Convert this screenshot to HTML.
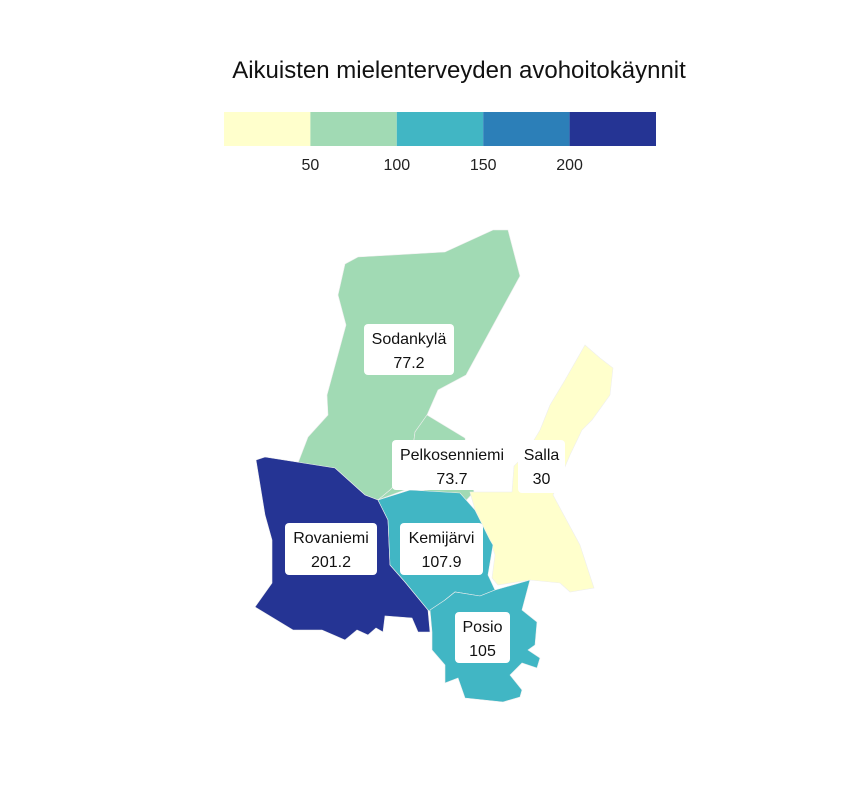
<!DOCTYPE html>
<html><head><meta charset="utf-8"><style>
body{margin:0;background:#fff;}
svg{display:block;font-family:"Liberation Sans",sans-serif;}
</style></head><body>
<svg id="chart" width="864" height="792">
<text x="459" y="78" text-anchor="middle" font-size="24" fill="#111">Aikuisten mielenterveyden avohoitokäynnit</text>
<g id="legend"></g>
<g id="map"></g>
<g id="labels"></g>
</svg>
<script>
const names=["Sodankylä","Pelkosenniemi","Salla","Rovaniemi","Kemijärvi","Posio"];
const values=[77.2,73.7,30,201.2,107.9,105];
const breaks=[50,100,150,200];
const colors=["#ffffcc","#a1dab4","#41b6c4","#2c7fb8","#253494"];
const tickLabels=["50","100","150","200"];
const shapes={
"Sodankylä":"345,264 358,257 445,252 493,230 508,230 520,276 466,375 438,390 427,415 415,432 410,470 390,490 378,500 365,495 335,468 298,463 308,437 328,415 327,395 346,325 338,295",
"Pelkosenniemi":"427,415 465,438 470,470 474,492 462,505 450,495 410,488 378,500 390,490 410,470 415,432",
"Salla":"585,345 600,358 613,368 610,395 592,420 582,430 570,455 553,495 580,545 594,588 570,592 560,583 530,580 498,585 492,578 495,555 490,540 475,510 470,492 512,492 514,466 525,455 540,430 550,405 565,380",
"Rovaniemi":"256,460 265,457 335,468 365,495 378,500 388,520 390,565 405,582 428,610 430,632 418,632 412,618 385,616 383,632 376,628 368,635 357,630 345,640 322,630 293,630 255,607 272,583 272,540 265,515",
"Kemijärvi":"378,500 410,490 460,493 475,510 490,540 493,545 488,575 495,590 480,596 455,592 445,600 435,615 428,610 405,582 390,565 388,520",
"Posio":"430,610 445,600 455,592 480,596 495,590 530,580 522,610 537,622 535,645 528,650 540,658 537,668 522,663 510,675 522,690 520,697 503,702 465,698 458,678 445,683 445,665 432,650 432,632"
};
const boxes={"Sodankylä":[364,324,90,51],"Pelkosenniemi":[392,440,120,50],"Salla":[518,440,47,53],"Rovaniemi":[285,523,92,52],"Kemijärvi":[400,523,83,52],"Posio":[455,612,55,51]};
const NS="http://www.w3.org/2000/svg";
function colorFor(v){let i=0;while(i<breaks.length&&v>=breaks[i])i++;return colors[i];}
const lx0=224,lw=432,ly=112,lh=34,vmin=0,vmax=250;
function lx(v){return lx0+(v-vmin)/(vmax-vmin)*lw;}
const lg=document.getElementById('legend');
const edges=[vmin].concat(breaks,[vmax]);
colors.forEach((c,i)=>{const r=document.createElementNS(NS,'rect');
r.setAttribute('x',lx(edges[i]));r.setAttribute('y',ly);r.setAttribute('width',lx(edges[i+1])-lx(edges[i]));r.setAttribute('height',lh);r.setAttribute('fill',c);


lg.appendChild(r);});
breaks.forEach((b,i)=>{const t=document.createElementNS(NS,'text');
t.setAttribute('x',lx(b));t.setAttribute('y',170);t.setAttribute('text-anchor','middle');t.setAttribute('font-size','16');t.setAttribute('fill','#222');t.textContent=tickLabels[i];


lg.appendChild(t);});
const mg=document.getElementById('map'),lb=document.getElementById('labels');
names.forEach((n,i)=>{const p=document.createElementNS(NS,'polygon');
p.setAttribute('points',shapes[n]);p.setAttribute('fill',colorFor(values[i]));p.setAttribute('stroke','#eee');p.setAttribute('stroke-width','0.6');


mg.appendChild(p);
const b=boxes[n];const r=document.createElementNS(NS,'rect');
r.setAttribute('x',b[0]);r.setAttribute('y',b[1]);r.setAttribute('width',b[2]);r.setAttribute('height',b[3]);r.setAttribute('rx',4);r.setAttribute('fill','#fff');


lb.appendChild(r);
[n,String(values[i])].forEach((s,k)=>{const t=document.createElementNS(NS,'text');
t.setAttribute('x',b[0]+b[2]/2);t.setAttribute('y',b[1]+20+k*24);t.setAttribute('text-anchor','middle');t.setAttribute('font-size','16');t.setAttribute('fill','#111');t.textContent=s;


lb.appendChild(t);});
});
</script>
</body></html>
